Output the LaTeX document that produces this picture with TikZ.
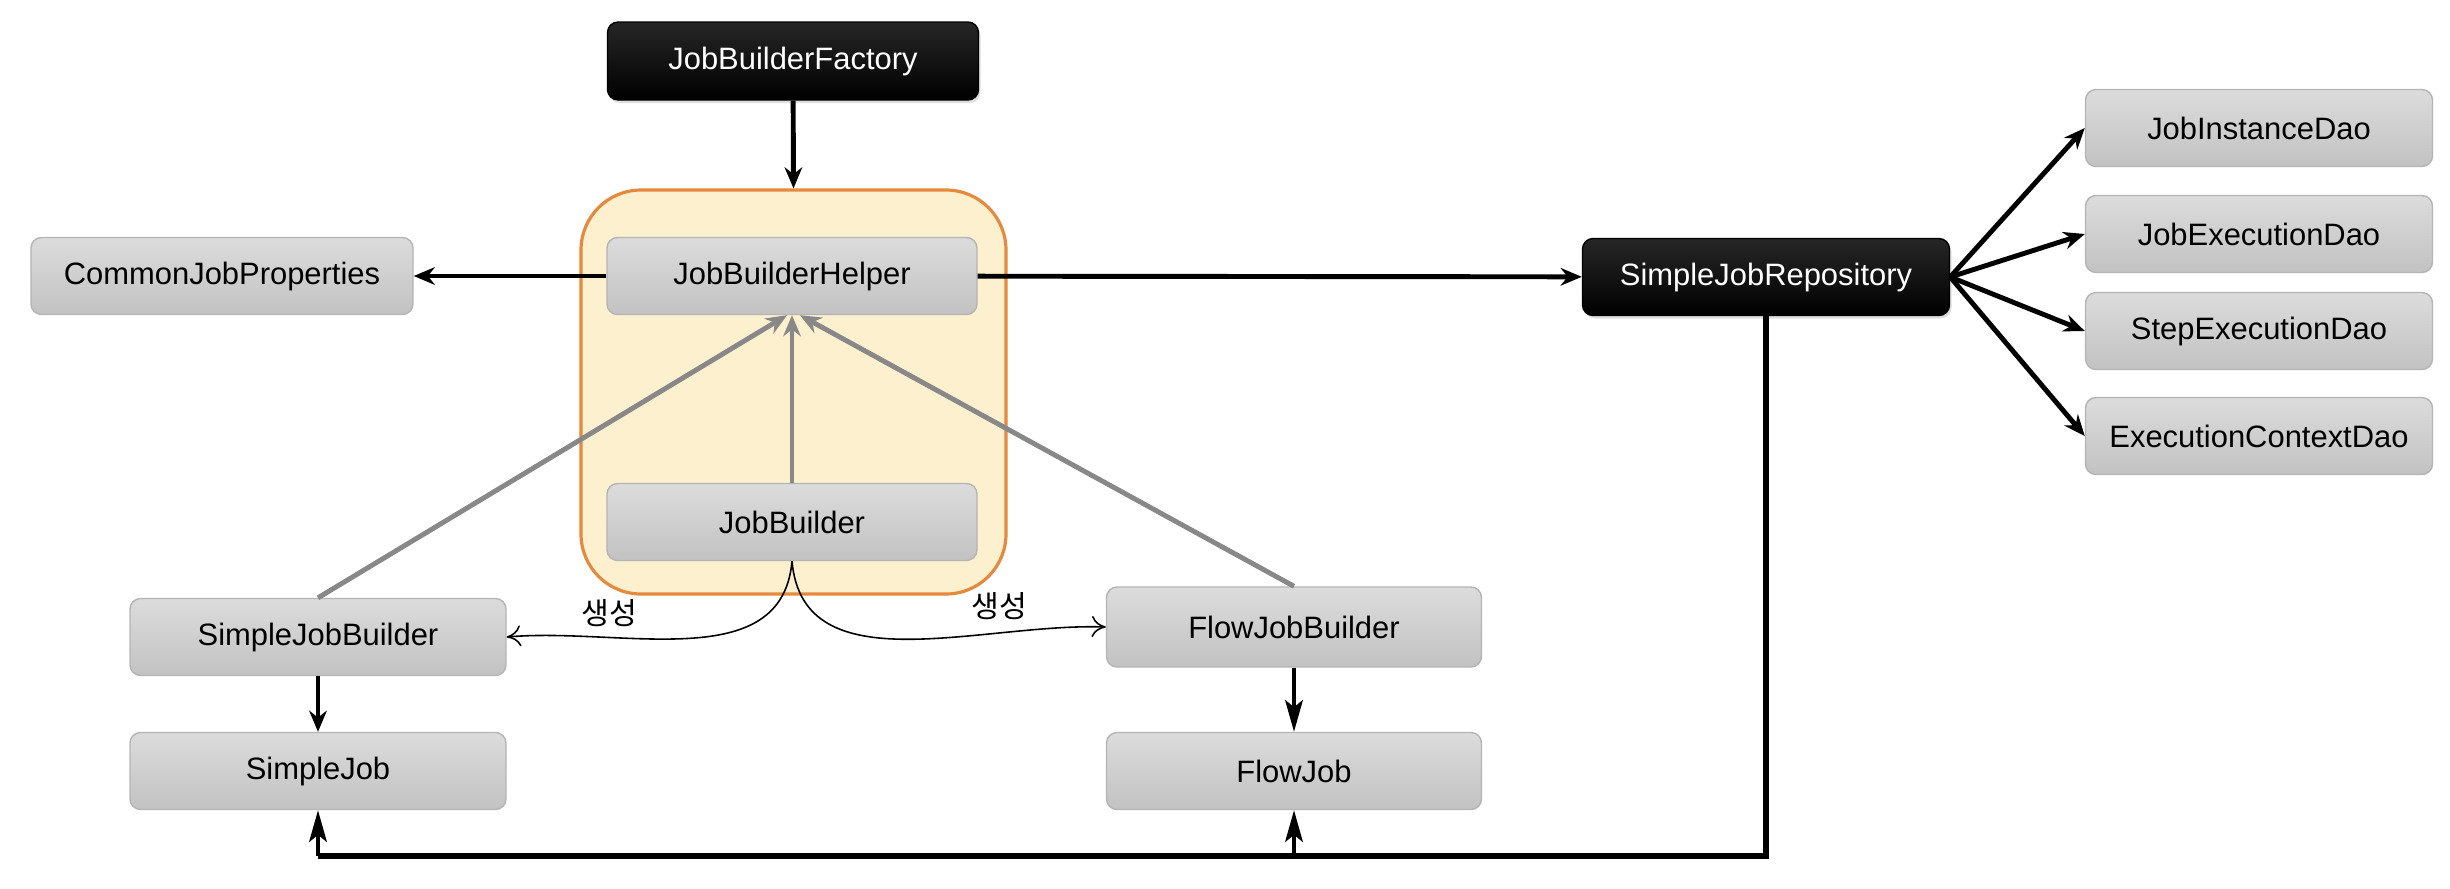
\documentclass[tikz,border=0pt]{standalone}
\usepackage{fontspec}
\setmainfont{Liberation Sans}
\newfontfamily\krfont{Noto Sans CJK KR}
\usetikzlibrary{arrows.meta, positioning, shadows}
\definecolor{boxtop}{HTML}{DCDCDC}
\definecolor{boxbot}{HTML}{C2C2C2}
\definecolor{boxline}{HTML}{B4B4B4}
\definecolor{groupfill}{HTML}{FCF0CF}
\definecolor{groupline}{HTML}{E5893E}
\definecolor{linkgray}{HTML}{888888}

\begin{document}
\begin{tikzpicture}[
    box/.style={rectangle, rounded corners=3pt, draw=boxline, top color=boxtop, bottom color=boxbot, minimum width=3.7cm, minimum height=0.77cm, align=center, font=\fontsize{8.8}{10}\selectfont},
    darkbox/.style={rectangle, rounded corners=3pt, draw=black, top color=black!85, bottom color=black, text=white, minimum width=3.7cm, minimum height=0.77cm, align=center, font=\fontsize{8.8}{10}\selectfont, drop shadow={opacity=0.25, shadow xshift=0.02cm, shadow yshift=-0.03cm}},
    group/.style={rectangle, rounded corners=0.6cm, draw=groupline, fill=groupfill, line width=0.9pt, minimum width=4.25cm, minimum height=4.04cm},
    lbl/.style={font=\krfont\fontsize{8.6}{9}\selectfont},
    arrow/.style={-{Stealth[length=6pt, width=5pt]}, line width=1.4pt},
    longarrow/.style={-{Stealth[length=9pt, width=5pt, inset=2pt]}, line width=1.2pt},
    grayarrow/.style={-{Stealth[length=6pt, width=5pt]}, line width=1.4pt, draw=linkgray},
    makes/.style={-{To[length=4pt, width=6pt]}, line width=0.45pt}
]
    \useasboundingbox (0,0) rectangle (24.5,-8.88);

    % Group around the helper
    \node[group] (group) at (7.935, -3.92) {};

    % Top
    \node[darkbox, minimum width=3.71cm, minimum height=0.78cm] (factory) at (7.93, -0.61) {JobBuilderFactory};

    % Inside the group
    \node[box] (helper) at (7.92, -2.76) {JobBuilderHelper};
    \node[box] (builder) at (7.92, -5.22) {JobBuilder};

    % Left
    \node[box, minimum width=3.82cm] (common) at (2.22, -2.76) {CommonJobProperties};
    \node[box, minimum width=3.76cm] (simplebuilder) at (3.18, -6.37) {SimpleJobBuilder};
    \node[box, minimum width=3.76cm] (simplejob) at (3.18, -7.71) {SimpleJob};

    % Middle
    \node[box, minimum width=3.75cm, minimum height=0.8cm] (flowbuilder) at (12.94, -6.27) {FlowJobBuilder};
    \node[box, minimum width=3.75cm] (flowjob) at (12.94, -7.71) {FlowJob};

    % Repository
    \node[darkbox, minimum width=3.67cm] (repo) at (17.66, -2.77) {SimpleJobRepository};

    % Daos
    \node[box, minimum width=3.47cm] (instancedao) at (22.59, -1.28) {JobInstanceDao};
    \node[box, minimum width=3.47cm] (executiondao) at (22.59, -2.34) {JobExecutionDao};
    \node[box, minimum width=3.47cm] (stepdao) at (22.59, -3.31) {StepExecutionDao};
    \node[box, minimum width=3.47cm] (contextdao) at (22.59, -4.36) {ExecutionContextDao};

    % Labels
    \node[lbl] (make1) at (6.09, -6.13) {생성};
    \node[lbl] (make2) at (9.99, -6.06) {생성};

    \coordinate (bus) at (0, -8.56);

    % Arrows
    \draw[arrow] (factory) -- (group.north);
    \draw[arrow] (helper) -- (common);
    \draw[arrow] (helper) -- (repo);
    \draw[arrow] (repo.east) -- (instancedao.west);
    \draw[arrow] (repo.east) -- (executiondao.west);
    \draw[arrow] (repo.east) -- (stepdao.west);
    \draw[arrow] (repo.east) -- (contextdao.west);
    \draw[grayarrow] (simplebuilder.north) -- ([xshift=-0.05cm]helper.south);
    \draw[grayarrow] (builder) -- (helper);
    \draw[grayarrow] (flowbuilder.north) -- ([xshift=0.08cm]helper.south);
    \draw[makes] (builder.south) to[out=-95, in=5] (simplebuilder.east);
    \draw[makes] (builder.south) to[out=-85, in=178] (flowbuilder.west);
    \draw[arrow] (simplebuilder) -- (simplejob);
    \draw[longarrow] (flowbuilder) -- (flowjob);
    \draw[line width=1.8pt] (repo.south) -- (repo.south |- bus) -- (simplejob.south |- bus);
    \draw[longarrow] (simplejob.south |- bus) -- (simplejob.south);
    \draw[longarrow] (flowjob.south |- bus) -- (flowjob.south);
\end{tikzpicture}
\end{document}
